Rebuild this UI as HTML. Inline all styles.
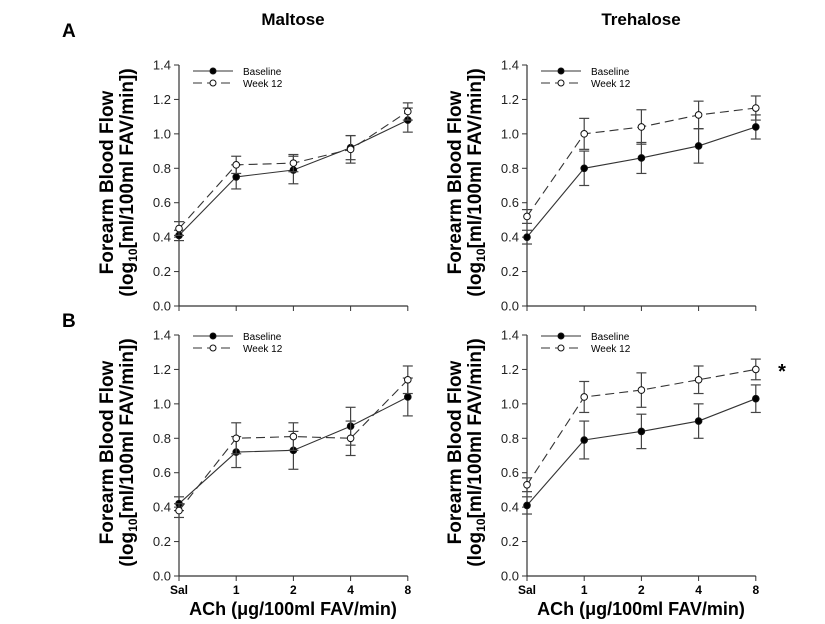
<!DOCTYPE html>
<html><head><meta charset="utf-8"><style>
html,body{margin:0;padding:0;background:#fff;}
svg{display:block;font-family:"Liberation Sans",Arial,sans-serif;}
</style></head><body>
<svg id="fig" width="825" height="624" viewBox="0 0 825 624" xmlns="http://www.w3.org/2000/svg">
<text x="62" y="37" font-size="19" font-weight="bold">A</text>
<text x="62" y="327" font-size="19" font-weight="bold">B</text>
<text x="293" y="25" font-size="17" font-weight="bold" text-anchor="middle">Maltose</text>
<text x="641" y="25" font-size="17" font-weight="bold" text-anchor="middle">Trehalose</text>
<text x="293" y="615" font-size="18" font-weight="bold" text-anchor="middle">ACh (μg/100ml FAV/min)</text>
<text x="641" y="615" font-size="18" font-weight="bold" text-anchor="middle">ACh (μg/100ml FAV/min)</text>
<text x="782" y="378" font-size="20" font-weight="bold" text-anchor="middle">*</text>
</svg>
<script>
const categories = ["Sal","1","2","4","8"];
const yTicks = [0.0,0.2,0.4,0.6,0.8,1.0,1.2,1.4];
const maltoseABase = [0.41,0.75,0.79,0.92,1.08];
const maltoseABaseErr = [0.03,0.07,0.08,0.07,0.07];
const maltoseAWk = [0.45,0.82,0.83,0.91,1.13];
const maltoseAWkErr = [0.04,0.05,0.05,0.08,0.05];
const trehaloseABase = [0.40,0.80,0.86,0.93,1.04];
const trehaloseABaseErr = [0.04,0.10,0.09,0.10,0.07];
const trehaloseAWk = [0.52,1.00,1.04,1.11,1.15];
const trehaloseAWkErr = [0.04,0.09,0.10,0.08,0.07];
const maltoseBBase = [0.42,0.72,0.73,0.87,1.04];
const maltoseBBaseErr = [0.04,0.09,0.11,0.11,0.11];
const maltoseBWk = [0.38,0.80,0.81,0.80,1.14];
const maltoseBWkErr = [0.04,0.09,0.08,0.10,0.08];
const trehaloseBBase = [0.41,0.79,0.84,0.90,1.03];
const trehaloseBBaseErr = [0.05,0.11,0.10,0.10,0.08];
const trehaloseBWk = [0.53,1.04,1.08,1.14,1.20];
const trehaloseBWkErr = [0.04,0.09,0.10,0.08,0.06];

const NS="http://www.w3.org/2000/svg";
const svg=document.getElementById('fig');
function mk(tag,attrs,parent){const e=document.createElementNS(NS,tag);for(const k in attrs)e.setAttribute(k,attrs[k]);(parent||svg).appendChild(e);return e;}

function panel(id,x0,yTop,yBot,showX,legend,base,baseErr,wk,wkErr){
  const g=mk('g',{});
  
  
  const step=57.2;
  const xs=i=>x0+i*step;
  const ys=v=>yBot-(v/1.4)*(yBot-yTop);
  const ax=mk('line',{x1:x0,y1:yTop,x2:x0,y2:yBot,stroke:'#333','stroke-width':1.2},g);
  
  
  const xa=mk('line',{x1:x0,y1:yBot,x2:xs(4),y2:yBot,stroke:'#333','stroke-width':1.2},g);
  
  
  yTicks.forEach(t=>{
    mk('line',{x1:x0-5,y1:ys(t),x2:x0,y2:ys(t),stroke:'#333'},g);
    const tx=mk('text',{x:x0-8,y:ys(t)+4.5,'font-size':13,'text-anchor':'end',fill:'#222'},g);
    tx.textContent=t.toFixed(1);
    
    
  });
  categories.forEach((c,i)=>{
    mk('line',{x1:xs(i),y1:yBot,x2:xs(i),y2:yBot+5,stroke:'#333'},g);
    if(showX){
      const tx=mk('text',{x:xs(i),y:yBot+18,'font-size':12,'font-weight':'bold','text-anchor':'middle'},g);
      tx.textContent=c;
      
      
    }
  });
  const mid=(yTop+yBot)/2-3;
  const t1=mk('text',{x:0,y:0,'font-size':19,'font-weight':'bold','text-anchor':'middle',transform:`translate(${x0-66},${mid}) rotate(-90)`},g);
  t1.textContent='Forearm Blood Flow';
  
  
  const t2=mk('text',{x:0,y:0,'font-size':19,'font-weight':'bold','text-anchor':'middle',transform:`translate(${x0-46},${mid}) rotate(-90)`},g);
  t2.innerHTML='(log<tspan font-size="12" dy="4">10</tspan><tspan dy="-4">[ml/100ml FAV/min])</tspan>';
  
  
  function series(vals,errs,dash,fill,name){
    const pts=vals.map((v,i)=>xs(i)+','+ys(v)).join(' ');
    const pl=mk('polyline',{points:pts,fill:'none',stroke:'#333','stroke-width':1.1,'stroke-dasharray':dash},g);
    
    
    vals.forEach((v,i)=>{
      const x=xs(i),a=ys(v+errs[i]),b=ys(v-errs[i]);
      mk('line',{x1:x,y1:a,x2:x,y2:b,stroke:'#444','stroke-width':1.2},g);
      mk('line',{x1:x-5,y1:a,x2:x+5,y2:a,stroke:'#444','stroke-width':1.2},g);
      mk('line',{x1:x-5,y1:b,x2:x+5,y2:b,stroke:'#444','stroke-width':1.2},g);
      const c=mk('circle',{cx:x,cy:ys(v),r:3.3,fill:fill,stroke:'#111','stroke-width':1},g);
      
      
    });
  }
  series(base,baseErr,'none','#000','baseline');
  series(wk,wkErr,'9,5','#fff','week12');
  const lx=legend[0],ly=legend[1];
  mk('line',{x1:lx,y1:ly,x2:lx+40,y2:ly,stroke:'#333'},g);
  mk('circle',{cx:lx+20,cy:ly,r:3,fill:'#000',stroke:'#111'},g);
  const lt1=mk('text',{x:lx+50,y:ly+4,'font-size':10},g);
  lt1.textContent='Baseline';
  
  
  mk('line',{x1:lx,y1:ly+12,x2:lx+40,y2:ly+12,stroke:'#333','stroke-dasharray':'9,5'},g);
  mk('circle',{cx:lx+20,cy:ly+12,r:3,fill:'#fff',stroke:'#111'},g);
  const lt2=mk('text',{x:lx+50,y:ly+16,'font-size':10},g);
  lt2.textContent='Week 12';
  
  
}
panel('maltose-a',179,65,306,false,[193,71],maltoseABase,maltoseABaseErr,maltoseAWk,maltoseAWkErr);
panel('trehalose-a',527,65,306,false,[541,71],trehaloseABase,trehaloseABaseErr,trehaloseAWk,trehaloseAWkErr);
panel('maltose-b',179,335,576,true,[193,336],maltoseBBase,maltoseBBaseErr,maltoseBWk,maltoseBWkErr);
panel('trehalose-b',527,335,576,true,[541,336],trehaloseBBase,trehaloseBBaseErr,trehaloseBWk,trehaloseBWkErr);
</script>
</body></html>
